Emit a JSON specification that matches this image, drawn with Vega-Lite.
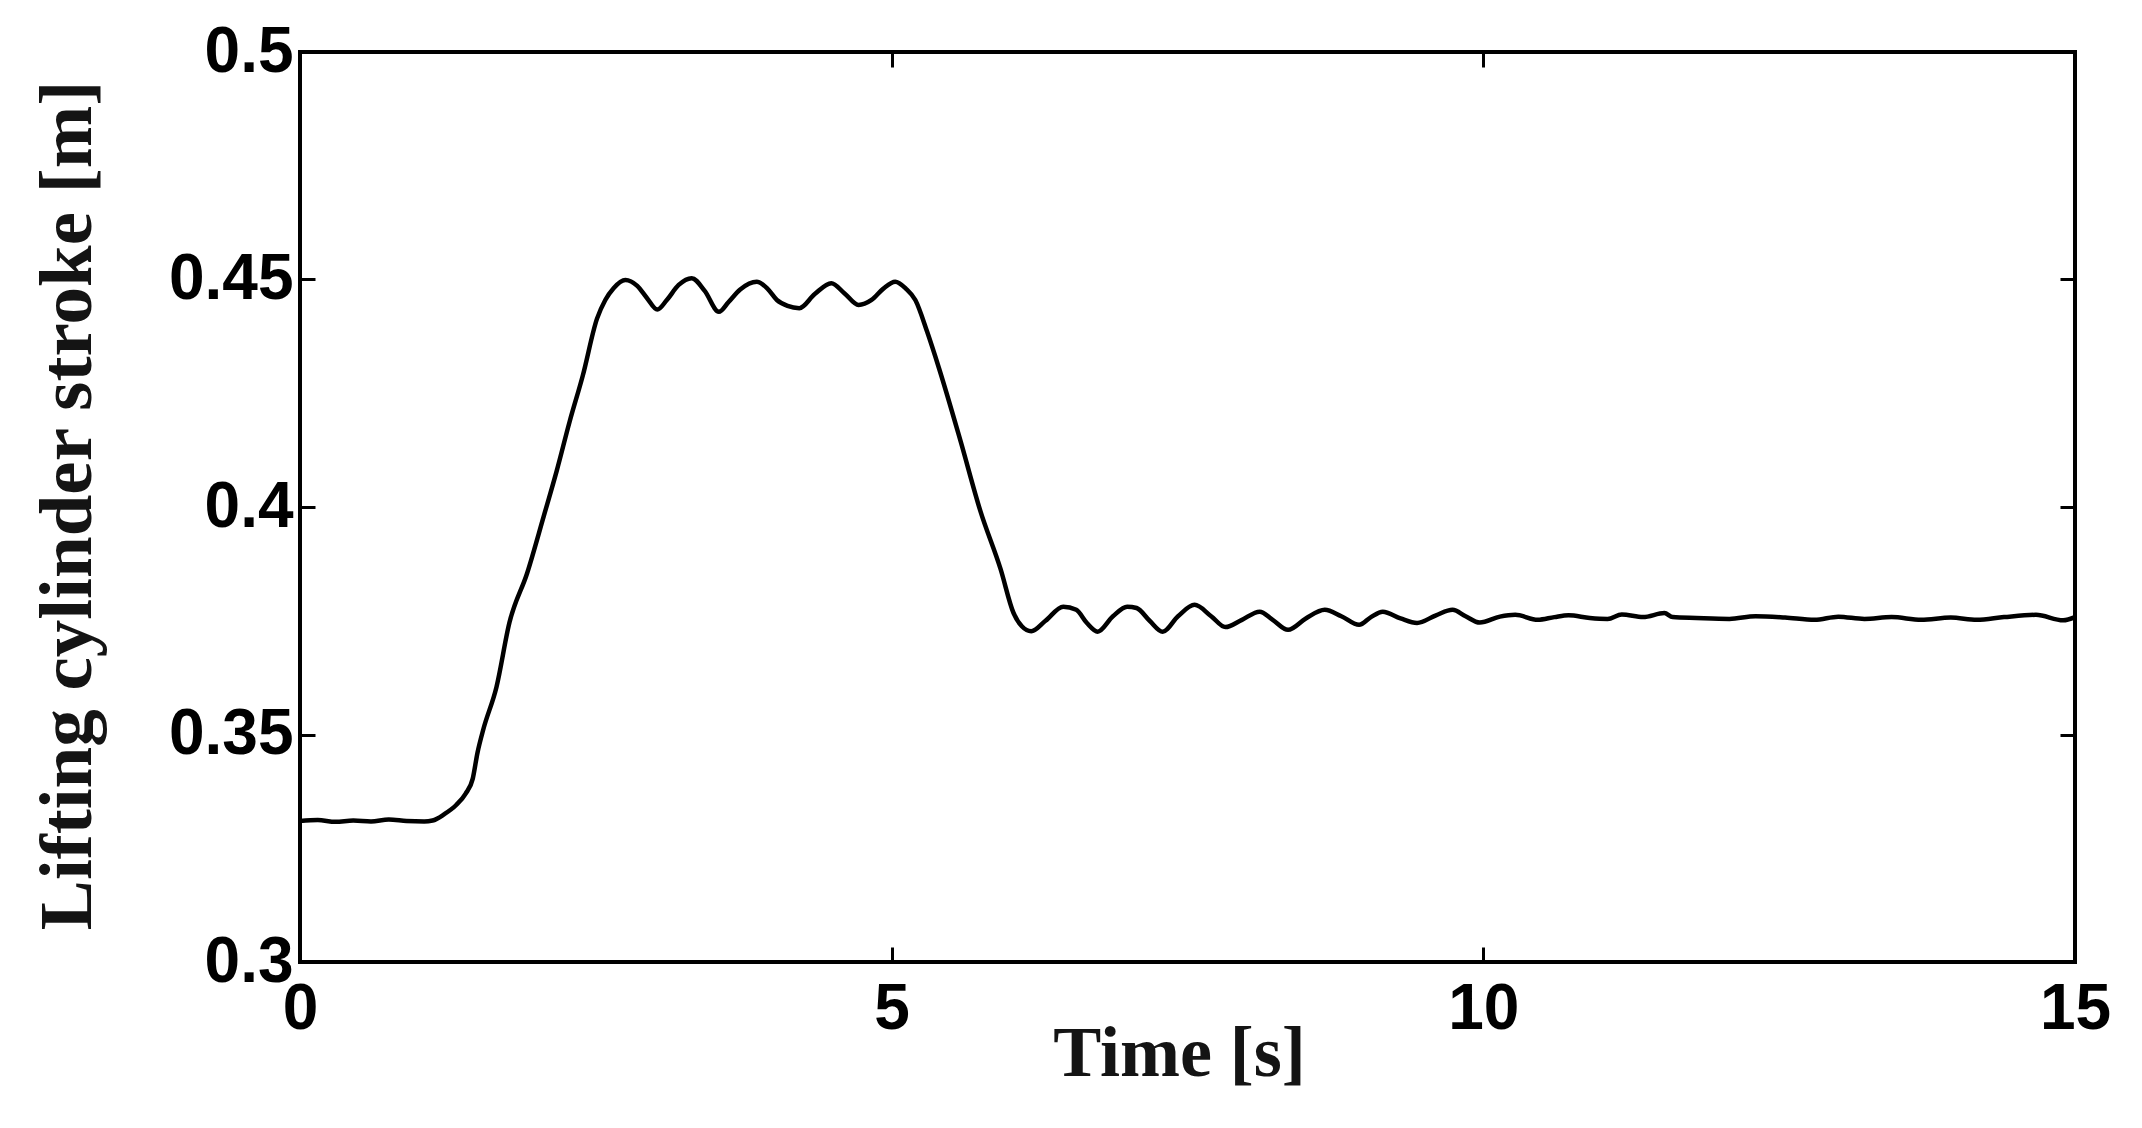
{
  "$schema": "https://vega.github.io/schema/vega-lite/v6.json",
  "width": 1775,
  "height": 910,
  "autosize": {"type": "none"},
  "padding": {"left": 300, "top": 52, "right": 67, "bottom": 166},
  "background": "white",
  "datasets": {
    "stroke": [
      {"t": 0, "s": 0.331}, {"t": 0.15, "s": 0.3312}, {"t": 0.3, "s": 0.3308}, {"t": 0.45, "s": 0.3311},
      {"t": 0.6, "s": 0.3309}, {"t": 0.75, "s": 0.3313}, {"t": 0.9, "s": 0.331}, {"t": 1.05, "s": 0.3309},
      {"t": 1.12, "s": 0.3311}, {"t": 1.22, "s": 0.3325}, {"t": 1.32, "s": 0.3345}, {"t": 1.4, "s": 0.337},
      {"t": 1.46, "s": 0.3403}, {"t": 1.5, "s": 0.346}, {"t": 1.55, "s": 0.3512}, {"t": 1.66, "s": 0.3604},
      {"t": 1.77, "s": 0.3746}, {"t": 1.92, "s": 0.3855}, {"t": 2.06, "s": 0.398}, {"t": 2.17, "s": 0.408},
      {"t": 2.28, "s": 0.4189}, {"t": 2.39, "s": 0.4289}, {"t": 2.51, "s": 0.4414}, {"t": 2.58, "s": 0.4455},
      {"t": 2.65, "s": 0.4481}, {"t": 2.75, "s": 0.4499}, {"t": 2.85, "s": 0.4486}, {"t": 2.93, "s": 0.446},
      {"t": 3.02, "s": 0.4434}, {"t": 3.1, "s": 0.4455}, {"t": 3.2, "s": 0.4488}, {"t": 3.31, "s": 0.4503},
      {"t": 3.42, "s": 0.4475}, {"t": 3.54, "s": 0.4429}, {"t": 3.62, "s": 0.445}, {"t": 3.72, "s": 0.4478},
      {"t": 3.86, "s": 0.4495}, {"t": 3.95, "s": 0.448}, {"t": 4.03, "s": 0.4455}, {"t": 4.12, "s": 0.4442},
      {"t": 4.22, "s": 0.4437}, {"t": 4.35, "s": 0.4468}, {"t": 4.49, "s": 0.4492}, {"t": 4.6, "s": 0.447},
      {"t": 4.72, "s": 0.4444}, {"t": 4.83, "s": 0.4455}, {"t": 4.93, "s": 0.448}, {"t": 5.03, "s": 0.4495},
      {"t": 5.12, "s": 0.448}, {"t": 5.2, "s": 0.4455}, {"t": 5.3, "s": 0.4385}, {"t": 5.4, "s": 0.4305},
      {"t": 5.58, "s": 0.4147}, {"t": 5.75, "s": 0.3991}, {"t": 5.92, "s": 0.3864}, {"t": 6.03, "s": 0.3767},
      {"t": 6.1, "s": 0.3738}, {"t": 6.18, "s": 0.3727}, {"t": 6.3, "s": 0.375}, {"t": 6.45, "s": 0.3781},
      {"t": 6.56, "s": 0.3774}, {"t": 6.65, "s": 0.3745}, {"t": 6.74, "s": 0.3726}, {"t": 6.87, "s": 0.376},
      {"t": 6.99, "s": 0.3781}, {"t": 7.07, "s": 0.3778}, {"t": 7.18, "s": 0.375}, {"t": 7.29, "s": 0.3726},
      {"t": 7.42, "s": 0.376}, {"t": 7.56, "s": 0.3785}, {"t": 7.7, "s": 0.376}, {"t": 7.82, "s": 0.3736},
      {"t": 7.96, "s": 0.3752}, {"t": 8.11, "s": 0.377}, {"t": 8.22, "s": 0.3752}, {"t": 8.35, "s": 0.373},
      {"t": 8.5, "s": 0.3755}, {"t": 8.66, "s": 0.3774}, {"t": 8.8, "s": 0.376}, {"t": 8.95, "s": 0.3741},
      {"t": 9.05, "s": 0.3758}, {"t": 9.15, "s": 0.377}, {"t": 9.3, "s": 0.3755}, {"t": 9.44, "s": 0.3745},
      {"t": 9.6, "s": 0.3762}, {"t": 9.74, "s": 0.3774}, {"t": 9.85, "s": 0.376}, {"t": 9.97, "s": 0.3746},
      {"t": 10.14, "s": 0.3759}, {"t": 10.27, "s": 0.3763}, {"t": 10.46, "s": 0.3752}, {"t": 10.6, "s": 0.3758},
      {"t": 10.72, "s": 0.3762}, {"t": 10.9, "s": 0.3756}, {"t": 11.05, "s": 0.3754}, {"t": 11.17, "s": 0.3764},
      {"t": 11.35, "s": 0.3758}, {"t": 11.53, "s": 0.3767}, {"t": 11.6, "s": 0.3758}, {"t": 11.8, "s": 0.3756},
      {"t": 12.08, "s": 0.3754}, {"t": 12.3, "s": 0.376}, {"t": 12.55, "s": 0.3757}, {"t": 12.8, "s": 0.3752},
      {"t": 13.0, "s": 0.3759}, {"t": 13.22, "s": 0.3754}, {"t": 13.45, "s": 0.3758}, {"t": 13.7, "s": 0.3752},
      {"t": 13.95, "s": 0.3757}, {"t": 14.17, "s": 0.3752}, {"t": 14.4, "s": 0.3758}, {"t": 14.67, "s": 0.3763},
      {"t": 14.9, "s": 0.3751}, {"t": 15.0, "s": 0.3758}
    ]
  },
  "data": {"name": "stroke"},
  "layer": [
    {
      "mark": {"type": "line", "color": "black", "strokeWidth": 4.5, "interpolate": "monotone"},
      "encoding": {
        "x": {
          "field": "t",
          "type": "quantitative",
          "scale": {"domain": [0, 15], "nice": false, "zero": false},
          "axis": {
            "orient": "bottom",
            "values": [0, 5, 10, 15],
            "title": "Time [s]",
            "titleX": 879,
            "titleY": 113,
            "titleBaseline": "alphabetic",
            "labelPadding": 30
          }
        },
        "y": {
          "field": "s",
          "type": "quantitative",
          "scale": {"domain": [0.3, 0.5], "nice": false, "zero": false},
          "axis": {
            "orient": "left",
            "values": [0.3, 0.35, 0.4, 0.45, 0.5],
            "format": "~g",
            "title": "Lifting cylinder stroke [m]",
            "titleX": -210,
            "titleY": 453,
            "titleBaseline": "alphabetic",
            "titleFontSize": 75,
            "labelPadding": 22
          }
        }
      }
    },
    {
      "mark": {"type": "line", "color": "black", "strokeOpacity": 0},
      "encoding": {
        "x": {
          "field": "t",
          "type": "quantitative",
          "scale": {"domain": [0, 15], "nice": false, "zero": false},
          "axis": {"orient": "top", "values": [0, 5, 10, 15], "labels": false, "title": null}
        },
        "y": {
          "field": "s",
          "type": "quantitative",
          "scale": {"domain": [0.3, 0.5], "nice": false, "zero": false},
          "axis": {"orient": "right", "values": [0.3, 0.35, 0.4, 0.45, 0.5], "labels": false, "title": null}
        }
      }
    }
  ],
  "resolve": {
    "scale": {"x": "independent", "y": "independent"},
    "axis": {"x": "independent", "y": "independent"}
  },
  "config": {
    "view": {"stroke": "black", "strokeWidth": 4},
    "axis": {
      "domain": false,
      "grid": false,
      "tickColor": "black",
      "tickWidth": 3,
      "tickSize": -15,
      "labelFont": "Liberation Sans",
      "labelFontWeight": "bold",
      "labelFontSize": 64,
      "labelColor": "black",
      "labelFlush": false,
      "labelOverlap": false,
      "titleFont": "Liberation Serif",
      "titleFontWeight": "bold",
      "titleFontSize": 72,
      "titleColor": "#141414"
    }
  }
}
